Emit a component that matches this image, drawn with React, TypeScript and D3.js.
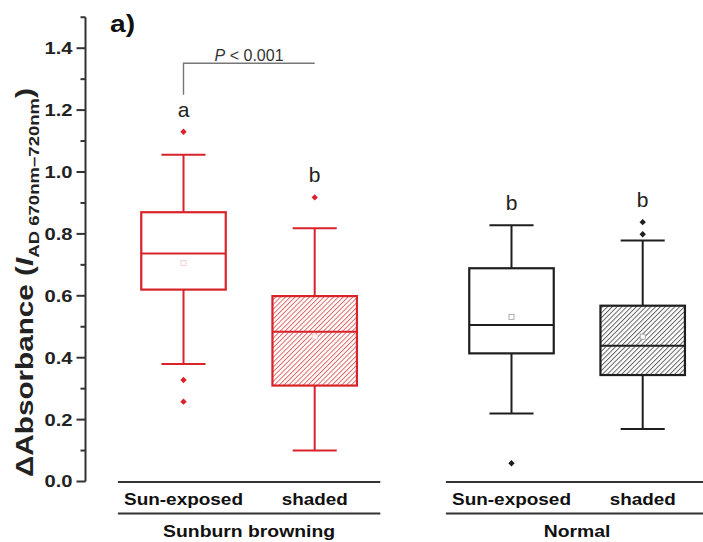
import React, { useEffect, useRef } from "react";
import * as d3 from "d3";

// box statistics (ΔAbsorbance)
const categories = ["Sun-exposed", "shaded", "Sun-exposed", "shaded"];
const groups = ["Sunburn browning", "Normal"];
const positions = [1, 2, 3.5, 4.5];
const groupPositions = [1.5, 4];
const whiskerLow = [0.38, 0.1, 0.22, 0.17];
const q1 = [0.62, 0.31, 0.414, 0.344];
const median = [0.737, 0.484, 0.506, 0.439];
const q3 = [0.87, 0.599, 0.689, 0.568];
const whiskerHigh = [1.056, 0.818, 0.828, 0.779];
const means = [0.706, 0.468, 0.532, 0.468];
const outliers = [[1.13, 0.328, 0.258], [0.918], [0.059], [0.838, 0.799]];
const letters = ["a", "b", "b", "b"];
const hatched = [false, true, false, true];
const yTicks = [0, 0.2, 0.4, 0.6, 0.8, 1.0, 1.2, 1.4];
const yMinorTicks = [0.1, 0.3, 0.5, 0.7, 0.9, 1.1, 1.3, 1.5];

const RED = "#d8232a";
const BLACK = "#1e1e1e";
const AXIS = "#333";
const FONT = "'Liberation Sans', Arial, Helvetica, sans-serif";

function App() {
  const ref = useRef<SVGSVGElement | null>(null);

  useEffect(() => {
    const svg = d3.select(ref.current);
    svg.selectAll("*").remove();

    const width = 703;
    const height = 542;

    const y = d3.scaleLinear().domain([0, 1.5]).range([481.5, 17.25]);
    const x = d3.scaleLinear().domain([1, 2]).range([183.5, 314.7]);
    const boxHalf = 0.322;
    const capHalf = 0.168;

    svg.append("rect").attr("width", width).attr("height", height).attr("fill", "#fff");

    const defs = svg.append("defs");
    [
      { id: "hatch-red", color: "#dc5a5a" },
      { id: "hatch-black", color: "#555" },
    ].forEach((h) => {
      const p = defs
        .append("pattern")
        .attr("id", h.id)
        .attr("patternUnits", "userSpaceOnUse")
        .attr("width", 3.4)
        .attr("height", 3.4)
        .attr("patternTransform", "rotate(45)");
      p.append("rect").attr("width", 3.4).attr("height", 3.4).attr("fill", "#fff");
      p.append("line")
        .attr("x1", 0.5)
        .attr("x2", 0.5)
        .attr("y1", 0)
        .attr("y2", 3.4)
        .attr("stroke", h.color)
        .attr("stroke-width", 0.9);
    });

    // y axis
    const axis = svg.append("g").attr("transform", "translate(85.5,0)");
    axis
      .append("line")
      .attr("y1", y(1.5))
      .attr("y2", y(0))
      .attr("stroke", AXIS)
      .attr("stroke-width", 2);
    axis
      .selectAll(".major")
      .data(yTicks)
      .enter()
      .append("line")
      .attr("x1", -9)
      .attr("x2", 0)
      .attr("y1", (d) => y(d))
      .attr("y2", (d) => y(d))
      .attr("stroke", AXIS)
      .attr("stroke-width", 2);
    axis
      .selectAll(".minor")
      .data(yMinorTicks)
      .enter()
      .append("line")
      .attr("x1", -5)
      .attr("x2", 0)
      .attr("y1", (d) => y(d))
      .attr("y2", (d) => y(d))
      .attr("stroke", AXIS)
      .attr("stroke-width", 2);
    axis
      .selectAll(".ticklabel")
      .data(yTicks)
      .enter()
      .append("text")
      .attr("x", -13)
      .attr("y", (d) => y(d))
      .attr("dy", "0.35em")
      .attr("text-anchor", "end")
      .attr("font-family", FONT)
      .attr("font-weight", "bold")
      .attr("font-size", 17)
      .attr("fill", "#222")
      .attr("textLength", 28)
      .attr("lengthAdjust", "spacingAndGlyphs")
      .text((d) => d.toFixed(1));

    // y axis title
    const title = svg
      .append("text")
      .attr("transform", "translate(33,282.5) rotate(-90)")
      .attr("text-anchor", "middle")
      .attr("font-family", FONT)
      .attr("font-weight", "bold")
      .attr("font-size", 24)
      .attr("fill", "#222")
      .attr("textLength", 389)
      .attr("lengthAdjust", "spacingAndGlyphs");
    title.append("tspan").text("ΔAbsorbance (");
    title.append("tspan").attr("font-style", "italic").text("I");
    title
      .append("tspan")
      .attr("font-size", 15)
      .attr("dy", 6)
      .text("AD 670nm–720nm");
    title.append("tspan").attr("dy", -6).text(")");

    // panel label
    svg
      .append("text")
      .attr("x", 110)
      .attr("y", 32)
      .attr("font-family", FONT)
      .attr("font-weight", "bold")
      .attr("font-size", 23)
      .attr("fill", "#111")
      .attr("textLength", 25)
      .attr("lengthAdjust", "spacingAndGlyphs")
      .text("a)");

    // boxes
    const boxes = svg
      .selectAll(".box")
      .data(categories.map((c, i) => i))
      .enter()
      .append("g");

    boxes.each(function (i) {
      const g = d3.select(this);
      const col = i < 2 ? RED : BLACK;
      const cx = x(positions[i]);
      const bw = x(positions[i] + boxHalf) - cx;
      const cw = x(positions[i] + capHalf) - cx;
      // whiskers
      g.append("line")
        .attr("x1", cx)
        .attr("x2", cx)
        .attr("y1", y(q3[i]))
        .attr("y2", y(whiskerHigh[i]))
        .attr("stroke", col)
        .attr("stroke-width", 2);
      g.append("line")
        .attr("x1", cx)
        .attr("x2", cx)
        .attr("y1", y(q1[i]))
        .attr("y2", y(whiskerLow[i]))
        .attr("stroke", col)
        .attr("stroke-width", 2);
      [whiskerHigh[i], whiskerLow[i]].forEach((v) => {
        g.append("line")
          .attr("x1", cx - cw)
          .attr("x2", cx + cw)
          .attr("y1", y(v))
          .attr("y2", y(v))
          .attr("stroke", col)
          .attr("stroke-width", 2);
      });
      g.append("rect")
        .attr("x", cx - bw)
        .attr("y", y(q3[i]))
        .attr("width", bw * 2)
        .attr("height", y(q1[i]) - y(q3[i]))
        .attr("fill", hatched[i] ? (i < 2 ? "url(#hatch-red)" : "url(#hatch-black)") : "#fff")
        .attr("stroke", col)
        .attr("stroke-width", 2.2);
      g.append("line")
        .attr("x1", cx - bw)
        .attr("x2", cx + bw)
        .attr("y1", y(median[i]))
        .attr("y2", y(median[i]))
        .attr("stroke", col)
        .attr("stroke-width", 2);
      // mean
      g.append("rect")
        .attr("x", cx - 2.5)
        .attr("y", y(means[i]) - 2.5)
        .attr("width", 5)
        .attr("height", 5)
        .attr("fill", "#fff")
        .attr("stroke", i < 2 ? "#efc8c8" : "#999")
        .attr("stroke-width", 0.8);
      // outliers
      g.selectAll(".out")
        .data(outliers[i])
        .enter()
        .append("path")
        .attr("d", d3.symbol(d3.symbolDiamond2, 26)())
        .attr("transform", (v) => `translate(${cx},${y(v)})`)
        .attr("fill", col);
      // significance letter
      const top = d3.max([whiskerHigh[i], ...outliers[i]]) as number;
      g.append("text")
        .attr("x", cx)
        .attr("y", y(top) - 15)
        .attr("text-anchor", "middle")
        .attr("font-family", FONT)
        .attr("font-size", 21)
        .attr("fill", "#222")
        .text(letters[i]);
    });

    // P bracket
    const bracketY = 63.3;
    svg
      .append("path")
      .attr("d", `M${x(1)},${y(1.25)}V${bracketY}H${x(2)}`)
      .attr("fill", "none")
      .attr("stroke", "#777")
      .attr("stroke-width", 1.4);
    const pText = svg
      .append("text")
      .attr("x", (x(1) + x(2)) / 2)
      .attr("y", 60.5)
      .attr("text-anchor", "middle")
      .attr("font-family", FONT)
      .attr("font-size", 16)
      .attr("fill", "#333");
    pText.append("tspan").attr("font-style", "italic").text("P");
    pText.append("tspan").text(" < 0.001");

    // category axis (two-level)
    groups.forEach((name, gi) => {
      const first = gi * 2;
      const x0 = x(positions[first] - 0.5);
      const x1 = x(positions[first + 1] + 0.5);
      [482, 513.5].forEach((ly) => {
        svg
          .append("line")
          .attr("x1", x0)
          .attr("x2", x1)
          .attr("y1", ly)
          .attr("y2", ly)
          .attr("stroke", AXIS)
          .attr("stroke-width", 2);
      });
      svg
        .append("text")
        .attr("x", x(groupPositions[gi]))
        .attr("y", 537)
        .attr("text-anchor", "middle")
        .attr("font-family", FONT)
        .attr("font-weight", "bold")
        .attr("font-size", 17)
        .attr("fill", "#111")
        .attr("textLength", gi === 0 ? 172 : 66.7)
        .attr("lengthAdjust", "spacingAndGlyphs")
        .text(name);
    });
    svg
      .selectAll(".cat")
      .data(categories)
      .enter()
      .append("text")
      .attr("x", (d, i) => x(positions[i]))
      .attr("y", 505)
      .attr("text-anchor", "middle")
      .attr("font-family", FONT)
      .attr("font-weight", "bold")
      .attr("font-size", 17)
      .attr("fill", "#111")
      .attr("textLength", (d) => (d === "shaded" ? 66 : 119))
      .attr("lengthAdjust", "spacingAndGlyphs")
      .text((d) => d);
  }, []);

  return (
    <div style={{ position: "absolute", left: 0, top: 0 }}>
      <svg ref={ref} width={703} height={542} style={{ display: "block" }} />
    </div>
  );
}

export default App;
